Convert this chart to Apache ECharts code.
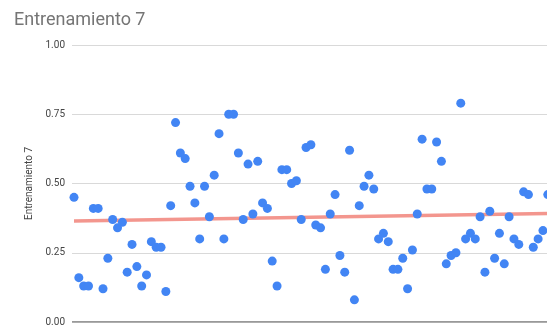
<!DOCTYPE html>
<html>
<head>
<meta charset="utf-8">
<script src="https://cdn.jsdelivr.net/npm/echarts@6/dist/echarts.min.js"></script>
<style>
  html, body { margin: 0; padding: 0; background: #fff; overflow: hidden; }
  #chart { width: 600px; height: 327px; }
</style>
</head>
<body>
<div id="chart"></div>
<script>
// Session values, one per training run (index starts at 1)
const sessionValues = [
  0.45, 0.16, 0.13, 0.13, 0.41, 0.41, 0.12, 0.23, 0.37, 0.34,
  0.36, 0.18, 0.28, 0.20, 0.13, 0.17, 0.29, 0.27, 0.27, 0.11,
  0.42, 0.72, 0.61, 0.59, 0.49, 0.43, 0.30, 0.49, 0.38, 0.53,
  0.68, 0.30, 0.75, 0.75, 0.61, 0.37, 0.57, 0.39, 0.58, 0.43,
  0.41, 0.22, 0.13, 0.55, 0.55, 0.50, 0.51, 0.37, 0.63, 0.64,
  0.35, 0.34, 0.19, 0.39, 0.46, 0.24, 0.18, 0.62, 0.08, 0.42,
  0.49, 0.53, 0.48, 0.30, 0.32, 0.29, 0.19, 0.19, 0.23, 0.12,
  0.26, 0.39, 0.66, 0.48, 0.48, 0.65, 0.58, 0.21, 0.24, 0.25,
  0.79, 0.30, 0.32, 0.30, 0.38, 0.18, 0.40, 0.23, 0.32, 0.21,
  0.38, 0.30, 0.28, 0.47, 0.46, 0.27, 0.30, 0.33, 0.46, 0.63
];

// Linear trendline endpoints (session index, value)
const trendX = [1, 99];
const trendY = [0.365, 0.392];

// Y axis ticks
const yTicks = [0, 0.25, 0.5, 0.75, 1];

const titleText = 'Entrenamiento 7';
const yAxisTitle = 'Entrenamiento 7';

const points = sessionValues.map((v, i) => [i + 1, v]);
const trendPoints = trendX.map((x, i) => [x, trendY[i]]);

const chart = echarts.init(document.getElementById('chart'), null, { renderer: 'canvas' });
chart.setOption({
  animation: false,
  backgroundColor: '#ffffff',
  title: {
    text: titleText,
    left: 9,
    top: 6,
    textStyle: {
      fontFamily: 'Roboto',
      fontSize: 18,
      fontWeight: 'normal',
      color: '#757575'
    }
  },
  grid: {
    left: 72,
    top: 45,
    width: 528,
    height: 277,
    containLabel: false
  },
  xAxis: {
    type: 'value',
    min: 0.586,
    max: 109.8,
    axisLine: { show: false },
    axisTick: { show: false },
    axisLabel: { show: false },
    splitLine: { show: false }
  },
  yAxis: {
    type: 'value',
    min: yTicks[0],
    max: yTicks[yTicks.length - 1],
    interval: 0.25,
    name: yAxisTitle,
    nameLocation: 'middle',
    nameGap: 37,
    nameRotate: 90,
    nameTextStyle: {
      fontFamily: 'Roboto',
      fontSize: 10,
      color: '#444'
    },
    axisLine: { show: false },
    axisTick: { show: false },
    axisLabel: {
      fontFamily: 'Roboto',
      fontSize: 10,
      color: '#444',
      margin: 7,
      formatter: v => v.toFixed(2)
    },
    splitLine: {
      lineStyle: { color: '#d9d9d9', width: 1 }
    }
  },
  series: [
    {
      type: 'line',
      data: trendPoints,
      symbol: 'none',
      lineStyle: { color: '#f28b82', width: 3.5, opacity: 0.9 },
      z: 2,
      silent: true
    },
    {
      type: 'scatter',
      data: points,
      symbolSize: 9,
      clip: false,
      itemStyle: { color: '#4285f4', opacity: 1 },
      z: 3
    },
    {
      // baseline at zero
      type: 'line',
      data: [[0.586, 0], [109.8, 0]],
      symbol: 'none',
      lineStyle: { color: '#333', width: 1 },
      silent: true,
      z: 1
    }
  ]
});
</script>
</body>
</html>
